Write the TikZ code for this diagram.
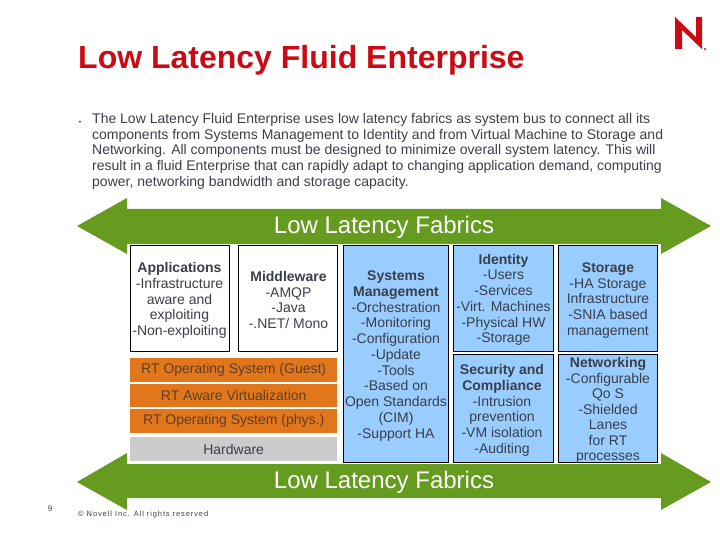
\documentclass[tikz,border=0pt]{standalone}
\usepackage{fontspec}
\setmainfont{Liberation Sans}
\newfontfamily\spacedfont[LetterSpace=12]{Liberation Sans}
\definecolor{fabricgreen}{HTML}{659C20}
\definecolor{boxblue}{HTML}{99CCFF}
\definecolor{layerorange}{HTML}{E2761A}
\definecolor{layergray}{HTML}{CCCCCC}
\definecolor{titlered}{HTML}{CC0A14}
\definecolor{inktext}{HTML}{3A3F48}
\definecolor{orangetext}{HTML}{5E3F26}
\tikzset{
  fabric/.style={fill=fabricgreen,draw=none},
  fabriclabel/.style={text=white,font=\fontsize{24}{27}\selectfont,inner sep=0pt},
  cellwhite/.style={draw=black,line width=0.9pt,fill=white,inner sep=0pt,anchor=north west},
  cellblue/.style={draw=black,line width=0.9pt,fill=boxblue,inner sep=0pt,anchor=north west},
  celltext/.style={text=inktext,align=center,inner sep=0pt,font=\fontsize{14}{15.75}\selectfont},
  layer/.style={draw=none,minimum width=207pt,inner sep=0pt,font=\fontsize{14}{16}\selectfont},
}
\begin{document}
\begin{tikzpicture}[x=1pt,y=-1pt]
\useasboundingbox (0,0) rectangle (720,540);
% logo
\fill[titlered] (675,17) -- (696,37) -- (696,17) -- (702,17) -- (702,49) -- (682,30) -- (682,49) -- (675,49) -- cycle;
\fill[titlered] (705,49) circle (1.1);
% title
\node[anchor=base west,inner sep=0pt,text=titlered,font=\fontsize{32}{36}\selectfont\bfseries] (title) at (78,69) {Low Latency Fluid Enterprise};
\node[anchor=base,inner sep=0pt,text=inktext,font=\fontsize{7}{12}\selectfont] (bullet) at (80,125) {•};
\node[anchor=north west,inner sep=0pt,text=inktext,align=left,font=\fontsize{14}{15.75}\selectfont] (para) at (92,113) {The Low Latency Fluid Enterprise uses low latency fabrics as system bus to connect all its\\components from Systems Management to Identity and from Virtual Machine to Storage and\\Networking. All components must be designed to minimize overall system latency. This will\\result in a fluid Enterprise that can rapidly adapt to changing application demand, computing\\power, networking bandwidth and storage capacity.};
% fabrics
\fill[fabric] (77,226) -- (127,198) -- (127,209) -- (661,209) -- (661,198) -- (711,226) -- (661,254) -- (661,244) -- (127,244) -- (127,254) -- cycle;
\fill[fabric] (77,482) -- (127,453) -- (127,464) -- (661,464) -- (661,453) -- (711,482) -- (661,510) -- (661,498) -- (127,498) -- (127,510) -- cycle;
\node[fabriclabel] (fabrictop) at (384,227) {Low Latency Fabrics};
\node[fabriclabel] (fabricbottom) at (384,482) {Low Latency Fabrics};
% cells
\node[cellwhite,minimum width=99pt,minimum height=106pt] (appsbox) at (130,245) {};
\node[cellwhite,minimum width=99pt,minimum height=106pt] (midbox) at (238,245) {};
\node[cellblue,minimum width=105pt,minimum height=217pt] (sysbox) at (343,245) {};
\node[cellblue,minimum width=100pt,minimum height=106pt] (idbox) at (453,245) {};
\node[cellblue,minimum width=99pt,minimum height=106pt] (storbox) at (558,245) {};
\node[cellblue,minimum width=100pt,minimum height=108pt] (secbox) at (453,354) {};
\node[cellblue,minimum width=99pt,minimum height=108pt] (netbox) at (558,354) {};
% texts
\node[celltext] (appstext) at (179.5,300.5) {\textbf{Applications}\\-Infrastructure\\aware and\\exploiting\\-Non-exploiting};
\node[celltext] (midtext) at (288.5,300) {\textbf{Middleware}\\-AMQP\\-Java\\-.NET/ Mono};
\node[celltext] (systext) at (396,356) {\textbf{Systems}\\\textbf{Management}\\-Orchestration\\-Monitoring\\-Configuration\\-Update\\-Tools\\-Based on\\Open Standards\\(CIM)\\-Support HA};
\node[celltext] (idtext) at (503.5,300) {\textbf{Identity}\\-Users\\-Services\\-Virt. Machines\\-Physical HW\\-Storage};
\node[celltext] (stortext) at (608,300.5) {\textbf{Storage}\\-HA Storage\\Infrastructure\\-SNIA based\\management};
\node[celltext] (sectext) at (502,410.5) {\textbf{Security and}\\\textbf{Compliance}\\-Intrusion\\prevention\\-VM isolation\\-Auditing};
\node[celltext,font=\fontsize{14}{15.5}\selectfont] (nettext) at (608,410.5) {\textbf{Networking}\\-Configurable\\Qo S\\-Shielded\\Lanes\\for RT\\processes};
% layers
\node[layer,fill=layerorange,text=orangetext,minimum height=24pt,anchor=north west] (guest) at (130,358) {RT Operating System (Guest)};
\node[layer,fill=layerorange,text=orangetext,minimum height=23pt,anchor=north west] (virt) at (130,384) {RT Aware Virtualization};
\node[layer,fill=layerorange,text=orangetext,minimum height=24pt,anchor=north west] (phys) at (130,409) {RT Operating System (phys.)};
\node[layer,fill=layergray,text=inktext,minimum height=24pt,anchor=north west] (hw) at (130,437) {Hardware};
% footer
\node[anchor=base,inner sep=0pt,text=inktext,font=\fontsize{8}{9}\selectfont] (pagenum) at (50,511) {9};
\node[anchor=base west,inner sep=0pt,text=inktext,font=\fontsize{7.5}{9}\selectfont\spacedfont] (copyright) at (78,516) {© Novell Inc. All rights reserved};
\end{tikzpicture}
\end{document}
